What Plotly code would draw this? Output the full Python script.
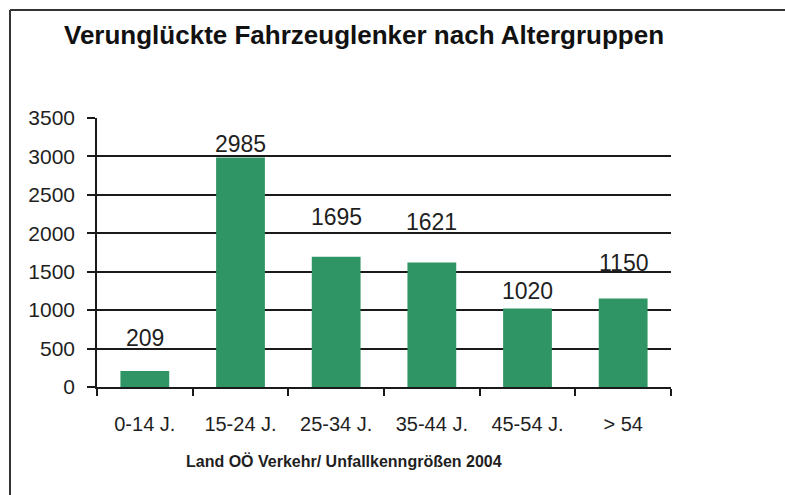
import plotly.graph_objects as go

categories = ["0-14 J.", "15-24 J.", "25-34 J.", "35-44 J.", "45-54 J.", "> 54"]
values = [209, 2985, 1695, 1621, 1020, 1150]
label_lift = [33, 14, 40, 40, 18, 36]  # px offsets of value labels above bar tops
y_ticks = [0, 500, 1000, 1500, 2000, 2500, 3000, 3500]

W, H = 785, 495
L, R, T, B = 97, 671, 118, 387
pw, ph = R - L, B - T

def px_x(x):
    return (x - L) / pw

def px_y(y):
    return (B - y) / ph

FONT = "Liberation Sans, Arial, sans-serif"
TXT = "#1f1f1f"

fig = go.Figure(go.Bar(
    x=categories, y=values,
    marker=dict(color="#2F9565", line=dict(width=0)),
    width=0.51,
    hoverinfo="x+y",
))

annotations = []
for c, v, lift in zip(categories, values, label_lift):
    annotations.append(dict(
        x=c, y=v, xref="x", yref="y", text=str(v), showarrow=False,
        yanchor="middle", xanchor="center", yshift=lift,
        font=dict(family=FONT, size=23, color=TXT),
    ))
annotations.append(dict(
    x=px_x(344), y=px_y(461), xref="paper", yref="paper",
    text="<b>Land OÖ Verkehr/ Unfallkenngrößen 2004</b>", showarrow=False,
    xanchor="center", yanchor="middle",
    font=dict(family=FONT, size=16, color=TXT),
))

shapes = [
    dict(type="line", xref="paper", yref="paper",
         x0=px_x(10), x1=px_x(W + 5), y0=px_y(10), y1=px_y(10),
         line=dict(color="#333333", width=2)),
    dict(type="line", xref="paper", yref="paper",
         x0=px_x(10), x1=px_x(10), y0=px_y(10), y1=px_y(H + 5),
         line=dict(color="#333333", width=2)),
]

fig.update_layout(
    width=W, height=H,
    margin=dict(l=L, r=W - R, t=T, b=H - B, pad=0),
    paper_bgcolor="white", plot_bgcolor="white",
    showlegend=False,
    title=dict(
        text="<b>Verunglückte Fahrzeuglenker nach Altergruppen</b>",
        x=364 / W, xanchor="center", y=1 - 35 / H, yanchor="middle",
        xref="container", yref="container",
        font=dict(family=FONT, size=26, color="#111111"),
    ),
    bargap=0.49,
    annotations=annotations,
    shapes=shapes,
    font=dict(family=FONT, color=TXT),
)

fig.update_xaxes(
    type="category",
    showline=True, linecolor="#1a1a1a", linewidth=1.5,
    ticks="outside", tickson="boundaries", ticklen=7, tickcolor="#1a1a1a", tickwidth=1.5,
    tickfont=dict(family=FONT, size=20, color=TXT),
    ticklabelstandoff=18,
    showgrid=False, zeroline=False,
)
fig.update_yaxes(
    range=[0, 3500], tickvals=y_ticks,
    showline=True, linecolor="#1a1a1a", linewidth=1.5,
    ticks="outside", ticklen=8, tickcolor="#1a1a1a", tickwidth=1.5,
    tickfont=dict(family=FONT, size=21, color=TXT),
    ticklabelstandoff=8,
    showgrid=True, gridcolor="#1a1a1a", gridwidth=1.5,
    zeroline=False,
)

fig.write_html(
    "out.html",
    config={"displayModeBar": False},
    post_script="document.body.style.margin='0px';document.body.style.overflow='hidden';",
)
